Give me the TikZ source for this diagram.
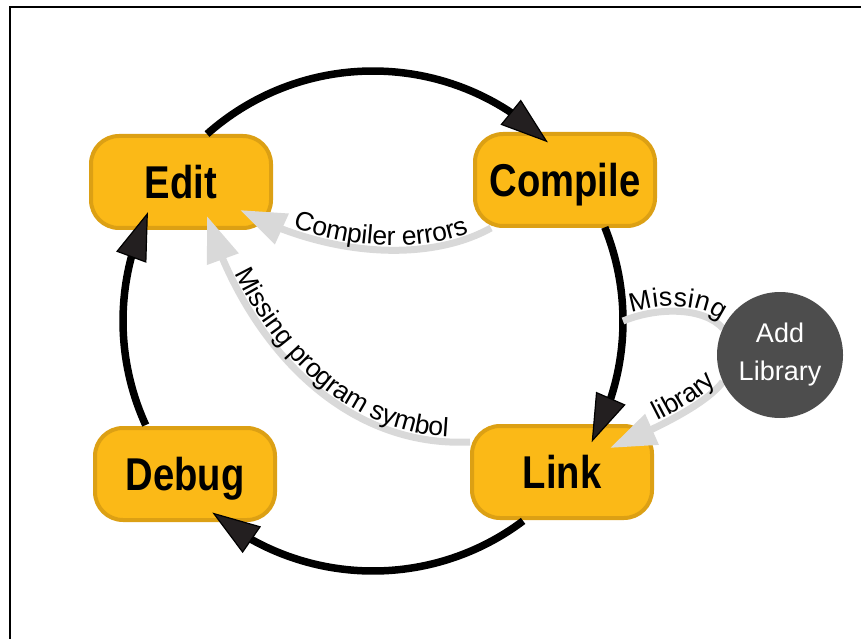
\documentclass[tikz,border=0pt]{standalone}
\usepackage{fontspec}
\setmainfont{Liberation Sans}
\newfontfamily\boxfont[FakeStretch=0.83]{Liberation Sans}
\usetikzlibrary{arrows.meta,bending,decorations.text}
\definecolor{boxfill}{RGB}{251,185,23}
\definecolor{boxline}{RGB}{220,160,20}
\definecolor{flow}{RGB}{217,217,217}
\definecolor{libfill}{RGB}{77,77,77}
\definecolor{tipfill}{RGB}{35,31,32}
\newcommand\lblfont{\fontsize{26.5}{30}\selectfont}
\begin{document}
\begin{tikzpicture}[x=1pt,y=1pt,
  stage/.style={rectangle, rounded corners=28pt, fill=boxfill, draw=boxline,
    line width=4pt, minimum width=180pt, minimum height=92pt, inner sep=0pt,
    font=\boxfont\bfseries\fontsize{46}{50}\selectfont, text height=33pt, text depth=0pt},
  loopline/.style={line width=7.5pt, draw=black,
    -{Triangle[length=48pt,width=32pt,fill=tipfill,line width=1.2pt]}},
  flowline/.style={line width=7pt, draw=flow},
  flowarrow/.style={flowline, -{Triangle[length=46pt,width=32pt]}},
  flowtext/.style={decorate, decoration={text along path, raise=5pt, #1}},
  libnode/.style={circle, fill=libfill, minimum size=126pt, inner sep=0pt,
    text=white, align=center, font=\fontsize{27}{38}\selectfont}
]
\useasboundingbox (0,0) rectangle (861,638);
\draw[line width=2.2pt] (10,-20) -- (10,631) -- (890,631);

\node[stage] (edit) at (181,456) {Edit};
\node[stage] (compile) at (565,458) {Compile};
\node[stage] (debug) at (185,164) {Debug};
\node[stage] (link) at (562,166) {Link};
\coordinate (C) at (373,317);
\coordinate (L) at (780,283);

% main cycle
\draw[loopline] ([shift={(131.6:250pt)}]C) arc[start angle=131.6, end angle=45.6, radius=250pt];
\draw[loopline] ([shift={(22:250pt)}]C) arc[start angle=22, end angle=-29, radius=250pt];
\draw[loopline] ([shift={(-53.1:250pt)}]C) arc[start angle=-53.1, end angle=-130, radius=250pt];
\draw[loopline] ([shift={(204.6:250pt)}]C) arc[start angle=204.6, end angle=154.2, radius=250pt];

% compiler errors
\coordinate (ce1) at ([xshift=18pt]compile.south west);
\coordinate (ce2) at ([shift={(-33pt,20pt)}]edit.south east);
\draw[flowarrow] (ce1) .. controls (430,376) and (330,380) .. (ce2);
\path[flowtext={text align={left indent=56pt}, text={|\lblfont|Compiler errors}}]
  (ce2) .. controls (330,380) and (430,376) .. (ce1);

% missing program symbol
\coordinate (mp1) at ([yshift=30pt]link.west);
\coordinate (mp2) at ([shift={(26pt,14pt)}]edit.south);
\draw[flowarrow] (mp1) .. controls (340,190) and (245,298) .. (mp2);
\path[flowtext={text align={left indent=64pt}, text={|\lblfont|Missing program symbol}}]
  (mp2) .. controls (245,298) and (340,190) .. (mp1);

% missing library
\coordinate (ml1) at ([shift={(0:250pt)}]C);
\coordinate (ml2) at ([shift={(155:63pt)}]L);
\coordinate (ml3) at ([shift={(205:63pt)}]L);
\coordinate (ml4) at ([shift={(48pt,24pt)}]link.center);
\draw[flowline] (ml1) .. controls (660,332) and (705,330) .. (ml2);
\path[flowtext={text align={left indent=10pt}, text={|\lblfont|Missing}}]
  (ml1) .. controls (660,332) and (705,330) .. (ml2);
\draw[flowarrow] (ml3) .. controls (708,236) and (665,213) .. (ml4);
\path[flowtext={text align={right, right indent=5pt}, text={|\lblfont|library}}]
  (ml4) .. controls (665,213) and (708,236) .. (ml3);

\node[libnode] (lib) at (L) {Add\\Library};
\end{tikzpicture}
\end{document}
